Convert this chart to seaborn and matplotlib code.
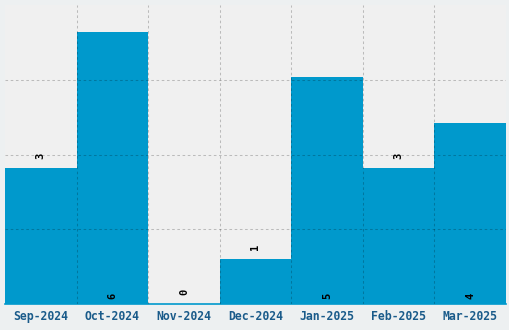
import matplotlib
matplotlib.use("Agg")
import matplotlib.pyplot as plt
import seaborn as sns
import numpy as np
import pandas as pd

months = ["Sep-2024", "Oct-2024", "Nov-2024", "Dec-2024", "Jan-2025", "Feb-2025", "Mar-2025"]
counts = [3, 6, 0, 1, 5, 3, 4]

BAR = "#0099cc"
AX_BG = "#f0f0f0"
FIG_BG = "#edf0f1"
TXT = "#1a5b8a"

sns.set_style("white")
plt.rcParams["font.family"] = ["DejaVu Sans Mono", "DejaVu Sans"]

df = pd.DataFrame({"month": months, "count": counts})

fig = plt.figure(figsize=(5.1, 3.3), dpi=100, facecolor=FIG_BG)
ax = fig.add_axes([5/510, 26/330, 501/510, 299/330])
ax.set_facecolor(AX_BG)

sns.barplot(data=df, x="month", y="count", order=months, color=BAR,
            saturation=1, width=1.0, linewidth=0, ax=ax)

ymax = 6.6
ax.set_ylim(0, ymax)
ax.set_xlim(-0.5, len(months) - 0.5)
ax.set_yticks(np.linspace(0, ymax, 5)[1:4])
ax.set_yticklabels([])
ax.set_xticks(range(len(months)))
ax.set_xticklabels(months, fontsize=8.3, fontweight="bold", color=TXT)
ax.set_xticks([i - 0.5 for i in range(1, len(months))], minor=True)
ax.tick_params(axis="both", which="both", length=0)
ax.tick_params(axis="x", pad=4)
ax.set_xlabel("")
ax.set_ylabel("")

ax.set_axisbelow(False)
gkw = dict(color="black", alpha=0.22, linestyle=(0, (2.5, 2.5)), linewidth=0.75)
ax.grid(axis="y", which="major", **gkw)
ax.grid(axis="x", which="minor", **gkw)
ax.grid(axis="x", which="major", visible=False)

for s in ["top", "left", "right"]:
    ax.spines[s].set_visible(False)
ax.spines["bottom"].set_color(BAR)
ax.spines["bottom"].set_linewidth(1.2)

for i, v in enumerate(counts):
    if v >= 4:
        ax.annotate(str(v), (i, 0), xytext=(0, 5.8), textcoords="offset points",
                    ha="center", va="center", rotation=90, fontsize=7.5,
                    fontweight="bold", color="black")
    else:
        ax.annotate(str(v), (i, v), xytext=(0, 8.6), textcoords="offset points",
                    ha="center", va="center", rotation=90, fontsize=7.5,
                    fontweight="bold", color="black")

fig.savefig("out.png", dpi=100, facecolor=FIG_BG)
